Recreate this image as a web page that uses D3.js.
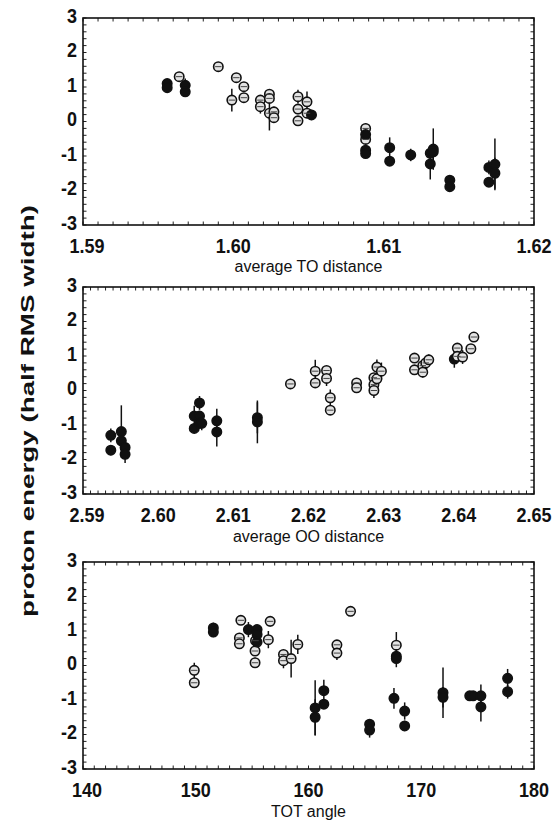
<!DOCTYPE html>
<html>
<head>
<meta charset="utf-8">
<script src="https://cdn.jsdelivr.net/npm/d3@7/dist/d3.min.js"></script>
<style>
  body { margin: 0; background: #fff; }
  text { font-family: "Liberation Sans", Arial, sans-serif; fill: #111; }
</style>
</head>
<body>
<script>
// each point: x, y (proton energy), e (half length of error bar), f (filled symbol)
const toDist = [
  {x: 1.5956, y: 1.10, e: 0.10, f: 1}, {x: 1.5956, y: 0.98, e: 0.15, f: 1},
  {x: 1.5964, y: 1.30, e: 0.05, f: 0},
  {x: 1.5968, y: 1.05, e: 0.20, f: 1}, {x: 1.5968, y: 0.86, e: 0.15, f: 1},
  {x: 1.5990, y: 1.59, e: 0.05, f: 0},
  {x: 1.5999, y: 0.62, e: 0.33, f: 0},
  {x: 1.6002, y: 1.27, e: 0.12, f: 0},
  {x: 1.6007, y: 1.01, e: 0.12, f: 0}, {x: 1.6007, y: 0.69, e: 0.12, f: 0},
  {x: 1.6018, y: 0.62, e: 0.12, f: 0}, {x: 1.6018, y: 0.43, e: 0.20, f: 0},
  {x: 1.6024, y: 0.79, e: 0.10, f: 0}, {x: 1.6024, y: 0.67, e: 0.10, f: 0},
  {x: 1.6024, y: 0.24, e: 0.50, f: 0},
  {x: 1.6027, y: 0.28, e: 0.15, f: 0}, {x: 1.6027, y: 0.11, e: 0.15, f: 0},
  {x: 1.6043, y: 0.72, e: 0.20, f: 0}, {x: 1.6043, y: 0.36, e: 0.15, f: 0},
  {x: 1.6043, y: 0.02, e: 0.12, f: 0},
  {x: 1.6049, y: 0.57, e: 0.30, f: 0}, {x: 1.6049, y: 0.24, e: 0.12, f: 0},
  {x: 1.6052, y: 0.19, e: 0.15, f: 1},
  {x: 1.6088, y: -0.20, e: 0.15, f: 0}, {x: 1.6088, y: -0.52, e: 0.15, f: 0},
  {x: 1.6088, y: -0.38, e: 0.12, f: 1}, {x: 1.6088, y: -0.83, e: 0.10, f: 1},
  {x: 1.6088, y: -0.93, e: 0.10, f: 1},
  {x: 1.6104, y: -0.76, e: 0.30, f: 1}, {x: 1.6104, y: -1.15, e: 0.10, f: 1},
  {x: 1.6118, y: -0.97, e: 0.18, f: 1},
  {x: 1.6131, y: -0.92, e: 0.20, f: 1}, {x: 1.6131, y: -1.23, e: 0.45, f: 1},
  {x: 1.6133, y: -0.80, e: 0.60, f: 1}, {x: 1.6133, y: -0.88, e: 0.20, f: 1},
  {x: 1.6144, y: -1.70, e: 0.12, f: 1}, {x: 1.6144, y: -1.89, e: 0.15, f: 1},
  {x: 1.6170, y: -1.33, e: 0.20, f: 1}, {x: 1.6170, y: -1.76, e: 0.12, f: 1},
  {x: 1.6174, y: -1.24, e: 0.75, f: 1}, {x: 1.6174, y: -1.50, e: 0.45, f: 1}
];

const ooDist = [
  {x: 2.5937, y: -1.30, e: 0.20, f: 1}, {x: 2.5937, y: -1.73, e: 0.15, f: 1},
  {x: 2.5951, y: -1.19, e: 0.76, f: 1}, {x: 2.5951, y: -1.46, e: 0.25, f: 1},
  {x: 2.5956, y: -1.65, e: 0.20, f: 1}, {x: 2.5956, y: -1.85, e: 0.25, f: 1},
  {x: 2.6048, y: -0.74, e: 0.30, f: 1}, {x: 2.6048, y: -1.10, e: 0.10, f: 1},
  {x: 2.6055, y: -0.36, e: 0.20, f: 1}, {x: 2.6055, y: -0.74, e: 0.15, f: 1},
  {x: 2.6055, y: -0.95, e: 0.15, f: 1}, {x: 2.6058, y: -0.95, e: 0.20, f: 1},
  {x: 2.6078, y: -0.88, e: 0.35, f: 1}, {x: 2.6078, y: -1.20, e: 0.42, f: 1},
  {x: 2.6132, y: -0.79, e: 0.45, f: 1}, {x: 2.6132, y: -0.91, e: 0.62, f: 1},
  {x: 2.6176, y: 0.19, e: 0.15, f: 0},
  {x: 2.6209, y: 0.56, e: 0.33, f: 0}, {x: 2.6209, y: 0.22, e: 0.10, f: 0},
  {x: 2.6224, y: 0.58, e: 0.10, f: 0}, {x: 2.6224, y: 0.35, e: 0.22, f: 0},
  {x: 2.6229, y: -0.21, e: 0.24, f: 0}, {x: 2.6229, y: -0.57, e: 0.10, f: 0},
  {x: 2.6264, y: 0.22, e: 0.10, f: 0}, {x: 2.6264, y: 0.08, e: 0.15, f: 0},
  {x: 2.6287, y: 0.37, e: 0.10, f: 0}, {x: 2.6287, y: 0.17, e: 0.10, f: 0},
  {x: 2.6287, y: 0.00, e: 0.22, f: 0},
  {x: 2.6291, y: 0.68, e: 0.22, f: 0}, {x: 2.6291, y: 0.34, e: 0.10, f: 0},
  {x: 2.6297, y: 0.56, e: 0.25, f: 0},
  {x: 2.6341, y: 0.94, e: 0.10, f: 0}, {x: 2.6341, y: 0.60, e: 0.10, f: 0},
  {x: 2.6352, y: 0.72, e: 0.12, f: 0}, {x: 2.6352, y: 0.53, e: 0.15, f: 0},
  {x: 2.6356, y: 0.80, e: 0.12, f: 0}, {x: 2.6360, y: 0.89, e: 0.15, f: 0},
  {x: 2.6394, y: 0.91, e: 0.25, f: 1},
  {x: 2.6398, y: 1.23, e: 0.08, f: 0}, {x: 2.6398, y: 0.99, e: 0.10, f: 0},
  {x: 2.6405, y: 0.97, e: 0.20, f: 0},
  {x: 2.6416, y: 1.21, e: 0.08, f: 0}, {x: 2.6420, y: 1.55, e: 0.08, f: 0}
];

const totAngle = [
  {x: 149.87, y: -0.14, e: 0.22, f: 0}, {x: 149.87, y: -0.50, e: 0.06, f: 0},
  {x: 151.56, y: 1.09, e: 0.15, f: 1}, {x: 151.56, y: 0.97, e: 0.15, f: 1},
  {x: 153.87, y: 0.80, e: 0.10, f: 0}, {x: 153.87, y: 0.63, e: 0.12, f: 0},
  {x: 154.00, y: 1.31, e: 0.06, f: 0},
  {x: 154.67, y: 1.04, e: 0.22, f: 1},
  {x: 155.26, y: 0.42, e: 0.08, f: 0}, {x: 155.26, y: 0.08, e: 0.15, f: 0},
  {x: 155.30, y: 0.72, e: 0.10, f: 0},
  {x: 155.44, y: 1.04, e: 0.12, f: 1}, {x: 155.44, y: 0.90, e: 0.12, f: 1},
  {x: 155.44, y: 0.68, e: 0.15, f: 1},
  {x: 156.44, y: 0.75, e: 0.25, f: 0}, {x: 156.60, y: 1.28, e: 0.15, f: 0},
  {x: 157.78, y: 0.32, e: 0.10, f: 0}, {x: 157.78, y: 0.14, e: 0.22, f: 0},
  {x: 158.46, y: 0.20, e: 0.55, f: 0},
  {x: 159.05, y: 0.61, e: 0.28, f: 0},
  {x: 160.59, y: -1.23, e: 0.80, f: 1}, {x: 160.59, y: -1.50, e: 0.52, f: 1},
  {x: 161.36, y: -0.73, e: 0.32, f: 1}, {x: 161.36, y: -1.12, e: 0.10, f: 1},
  {x: 162.52, y: 0.60, e: 0.10, f: 0}, {x: 162.52, y: 0.36, e: 0.20, f: 0},
  {x: 163.73, y: 1.57, e: 0.05, f: 0},
  {x: 165.42, y: -1.70, e: 0.15, f: 1}, {x: 165.42, y: -1.87, e: 0.22, f: 1},
  {x: 167.58, y: -0.95, e: 0.30, f: 1},
  {x: 167.79, y: 0.59, e: 0.38, f: 0},
  {x: 167.79, y: 0.27, e: 0.12, f: 1}, {x: 167.79, y: 0.20, e: 0.25, f: 1},
  {x: 168.53, y: -1.32, e: 0.25, f: 1}, {x: 168.53, y: -1.75, e: 0.15, f: 1},
  {x: 171.93, y: -0.79, e: 0.73, f: 1}, {x: 171.93, y: -0.92, e: 0.30, f: 1},
  {x: 174.30, y: -0.88, e: 0.08, f: 1}, {x: 174.60, y: -0.88, e: 0.08, f: 1},
  {x: 175.29, y: -0.88, e: 0.33, f: 1}, {x: 175.29, y: -1.20, e: 0.42, f: 1},
  {x: 177.66, y: -0.37, e: 0.27, f: 1}, {x: 177.66, y: -0.76, e: 0.20, f: 1}
];

const yTicks = [-3, -2, -1, 0, 1, 2, 3];
const toTicks = [1.59, 1.60, 1.61, 1.62];
const ooTicks = [2.59, 2.60, 2.61, 2.62, 2.63, 2.64, 2.65];
const totTicks = [140, 150, 160, 170, 180];

const W = 554, H = 820;
const svg = d3.select("body").append("svg")
    .attr("width", W)
    .attr("height", H)
    .attr("viewBox", `0 0 ${W} ${H}`);

const left = 83, right = 534, ph = 207;

const panels = [
  {data: toDist, ticks: toTicks, domain: [1.59, 1.62], minor: 0.001, fmt: d3.format(".2f"), top: 18, title: "average TO distance", titleY: 272},
  {data: ooDist, ticks: ooTicks, domain: [2.59, 2.65], minor: 0.001, fmt: d3.format(".2f"), top: 287, title: "average OO distance", titleY: 542},
  {data: totAngle, ticks: totTicks, domain: [140, 180], minor: 1, fmt: d3.format("d"), top: 562, title: "TOT angle", titleY: 817}
];

panels.forEach(p => {
  const x = d3.scaleLinear().domain(p.domain).range([left, right]);
  const y = d3.scaleLinear().domain([-3, 3]).range([p.top + ph, p.top]);
  const g = svg.append("g");

  // minor ticks on all four sides, pointing inward
  const nx = Math.round((p.domain[1] - p.domain[0]) / p.minor);
  const xMinor = d3.range(nx + 1).map(i => p.domain[0] + i * p.minor);
  const yMinor = d3.range(31).map(i => -3 + i * 0.2);

  g.selectAll(".xt").data(xMinor).enter().append("line")
    .attr("x1", d => x(d)).attr("x2", d => x(d))
    .attr("y1", p.top).attr("y2", p.top + 3.5)
    .attr("stroke", "#222").attr("stroke-width", 1);
  g.selectAll(".xb").data(xMinor).enter().append("line")
    .attr("x1", d => x(d)).attr("x2", d => x(d))
    .attr("y1", p.top + ph).attr("y2", p.top + ph - 3.5)
    .attr("stroke", "#222").attr("stroke-width", 1);
  g.selectAll(".yl").data(yMinor).enter().append("line")
    .attr("x1", left).attr("x2", left + 3.5)
    .attr("y1", d => y(d)).attr("y2", d => y(d))
    .attr("stroke", "#222").attr("stroke-width", 1);
  g.selectAll(".yr").data(yMinor).enter().append("line")
    .attr("x1", right).attr("x2", right - 3.5)
    .attr("y1", d => y(d)).attr("y2", d => y(d))
    .attr("stroke", "#222").attr("stroke-width", 1);

  g.append("rect")
    .attr("x", left).attr("y", p.top)
    .attr("width", right - left).attr("height", ph)
    .attr("fill", "none").attr("stroke", "#111").attr("stroke-width", 1.6);

  // tick labels
  g.selectAll(".xlab").data(p.ticks).enter().append("text")
    .attr("transform", (d, i) => `translate(${x(d) + (i === 0 ? 4 : 0)},${p.top + ph + 28}) scale(1,1.15)`)
    .attr("text-anchor", "middle")
    .style("font-size", "18px")
    .style("font-weight", "bold")
    .text(p.fmt);
  g.selectAll(".ylab").data(yTicks).enter().append("text")
    .attr("transform", d => `translate(${left - 6},${y(d) + 4.8}) scale(1,1.15)`)
    .attr("text-anchor", "end")
    .style("font-size", "18px")
    .style("font-weight", "bold")
    .text(d => d);

  g.append("text")
    .attr("x", (left + right) / 2).attr("y", p.titleY)
    .attr("text-anchor", "middle")
    .style("font-size", "16px")
    .text(p.title);

  // error bars
  g.selectAll(".err").data(p.data).enter().append("line")
    .attr("x1", d => x(d.x)).attr("x2", d => x(d.x))
    .attr("y1", d => y(Math.max(-3, d.y - d.e))).attr("y2", d => y(Math.min(3, d.y + d.e)))
    .attr("stroke", "#111").attr("stroke-width", 1.5);

  // symbols
  g.selectAll(".pt").data(p.data).enter().append("circle")
    .attr("cx", d => x(d.x)).attr("cy", d => y(d.y))
    .attr("r", 4.7)
    .attr("fill", d => d.f ? "#111" : "#e2e2e2")
    .attr("stroke", "#111").attr("stroke-width", 1.6);

  g.selectAll(".bar").data(p.data.filter(d => !d.f)).enter().append("line")
    .attr("x1", d => x(d.x) - 3.2).attr("x2", d => x(d.x) + 3.2)
    .attr("y1", d => y(d.y)).attr("y2", d => y(d.y))
    .attr("stroke", "#444").attr("stroke-width", 1);
});

svg.append("text")
  .attr("transform", "translate(34,411) rotate(-90)")
  .attr("text-anchor", "middle")
  .style("font-size", "18px")
  .style("font-weight", "bold")
  .attr("textLength", 412)
  .attr("lengthAdjust", "spacingAndGlyphs")
  .text("proton energy (half RMS width)");
</script>
</body>
</html>
